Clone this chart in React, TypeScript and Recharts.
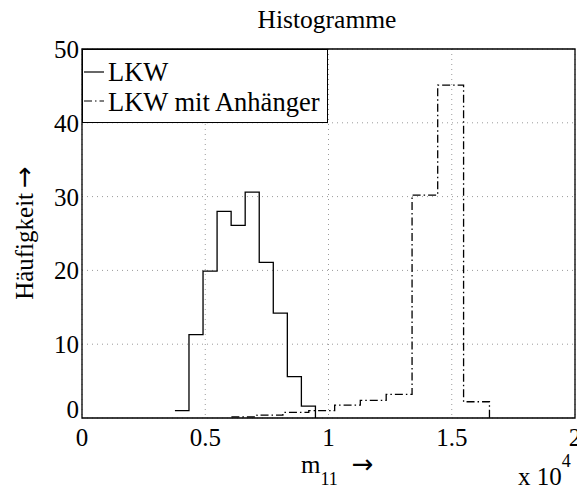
import React from 'react';
import { LineChart, Line, XAxis, YAxis, CartesianGrid, Legend, ReferenceArea } from 'recharts';

const FONT = 'Liberation Serif, DejaVu Serif, serif';
const ARROW_FONT = 'DejaVu Sans, sans-serif';

// Bin edges of the two histograms, m11 in units of 10^4
const lkwEdges = [0.377, 0.434, 0.491, 0.548, 0.605, 0.662, 0.719, 0.776, 0.833, 0.890, 0.947];
const lkwCounts = [1, 11.3, 19.9, 28, 26.1, 30.6, 21.1, 14.2, 5.6, 1.6];

const anhEdges = [0.606, 0.710, 0.815, 0.920, 1.025, 1.129, 1.234, 1.339, 1.443, 1.548, 1.653];
const anhCounts = [0.15, 0.4, 0.75, 1.0, 1.75, 2.4, 3.2, 30.2, 45.1, 2.2];

const xTicks = [0, 0.5, 1, 1.5, 2];
const yTicks = [0, 10, 20, 30, 40, 50];

const seriesNames = ['LKW', 'LKW mit Anhänger'];
const DASH_DOT = '8 3 1.5 3';

const textStyle = { fontFamily: FONT };
const arrowStyle = { fontFamily: ARROW_FONT };

// stairs outline: each edge carries the count of the bin to its right, last edge drops to 0
const toStairs = (edges: number[], counts: number[]) =>
  edges.map((x, i) => ({ x, y: i < counts.length ? counts[i] : 0 }));

const lkwStairs = toStairs(lkwEdges, lkwCounts);
const anhStairs = toStairs(anhEdges, anhCounts);

const XTick = (props: any) => {
  const { x, y, payload } = props;
  return (
    <text x={x} y={y + 28} textAnchor="middle" style={textStyle} fontSize={25} fill="#000">
      {String(payload.value)}
    </text>
  );
};

const YTick = (props: any) => {
  const { x, y, payload } = props;
  const dy = payload.value === 0 ? 0 : 9;
  return (
    <text x={x - 3} y={y + dy} textAnchor="end" style={textStyle} fontSize={25} fill="#000">
      {String(payload.value)}
    </text>
  );
};

const LegendBox = () => (
  <div style={{ width: 246, height: 74, boxSizing: 'border-box', border: '1px solid #000', background: '#fff' }}>
    <svg width={244} height={72} style={{ display: 'block' }}>
      {seriesNames.map((name, i) => (
        <g key={name}>
          <line
            x1={1}
            x2={21}
            y1={22 + i * 29}
            y2={22 + i * 29}
            stroke="#000"
            strokeWidth={1.2}
            strokeDasharray={i === 1 ? DASH_DOT : undefined}
          />
          <text x={25} y={31 + i * 29.5} style={textStyle} fontSize={26.5} fill="#000">
            {name}
          </text>
        </g>
      ))}
    </svg>
  </div>
);

export default function App() {
  return (
    <div style={{ position: 'absolute', left: 0, top: 0, width: 577, height: 493, background: '#fff' }}>
      <LineChart width={577} height={493} margin={{ top: 49, right: 2, bottom: 0, left: 0 }}>
        <CartesianGrid stroke="#9a9a9a" strokeDasharray="1 4" />
        <XAxis
          type="number"
          dataKey="x"
          domain={[0, 2]}
          ticks={xTicks}
          height={75}
          axisLine={false}
          tickLine={false}
          tickSize={0}
          tickMargin={0}
          tick={<XTick />}
          interval={0}
        />
        <YAxis
          type="number"
          domain={[0, 50]}
          ticks={yTicks}
          width={82}
          axisLine={false}
          tickLine={false}
          tickSize={0}
          tickMargin={0}
          tick={<YTick />}
          interval={0}
        />
        <Line
          name={seriesNames[0]}
          data={lkwStairs}
          dataKey="y"
          type="stepAfter"
          stroke="#000"
          strokeWidth={1.3}
          dot={false}
          isAnimationActive={false}
        />
        <Line
          name={seriesNames[1]}
          data={anhStairs}
          dataKey="y"
          type="stepAfter"
          stroke="#000"
          strokeWidth={1.3}
          strokeDasharray={DASH_DOT}
          dot={false}
          isAnimationActive={false}
        />
        <ReferenceArea x1={0} x2={2} y1={0} y2={50} fill="none" stroke="#000" strokeWidth={1.3} />
        <Legend
          layout="vertical"
          align="center"
          verticalAlign="middle"
          content={<LegendBox />}
          wrapperStyle={{ left: 82, top: 49, width: 246, height: 74 }}
        />
        <text x={327} y={28} textAnchor="middle" style={textStyle} fontSize={25.5} fill="#000">
          Histogramme
        </text>
        <text
          x={33}
          y={233}
          transform="rotate(-90 33 233)"
          textAnchor="middle"
          style={textStyle}
          fontSize={25}
          fill="#000"
        >
          Häufigkeit
          <tspan dx={5} style={arrowStyle} fontSize={26}>→</tspan>
        </text>
        <text x={301} y={473} style={textStyle} fontSize={25} fill="#000">
          m
          <tspan dy={12} fontSize={18}>11</tspan>
          <tspan dx={14} dy={-12} style={arrowStyle} fontSize={26}>→</tspan>
        </text>
        <text x={518} y={485} style={textStyle} fontSize={25} fill="#000">
          x 10
          <tspan dy={-18} fontSize={18}>4</tspan>
        </text>
      </LineChart>
    </div>
  );
}
